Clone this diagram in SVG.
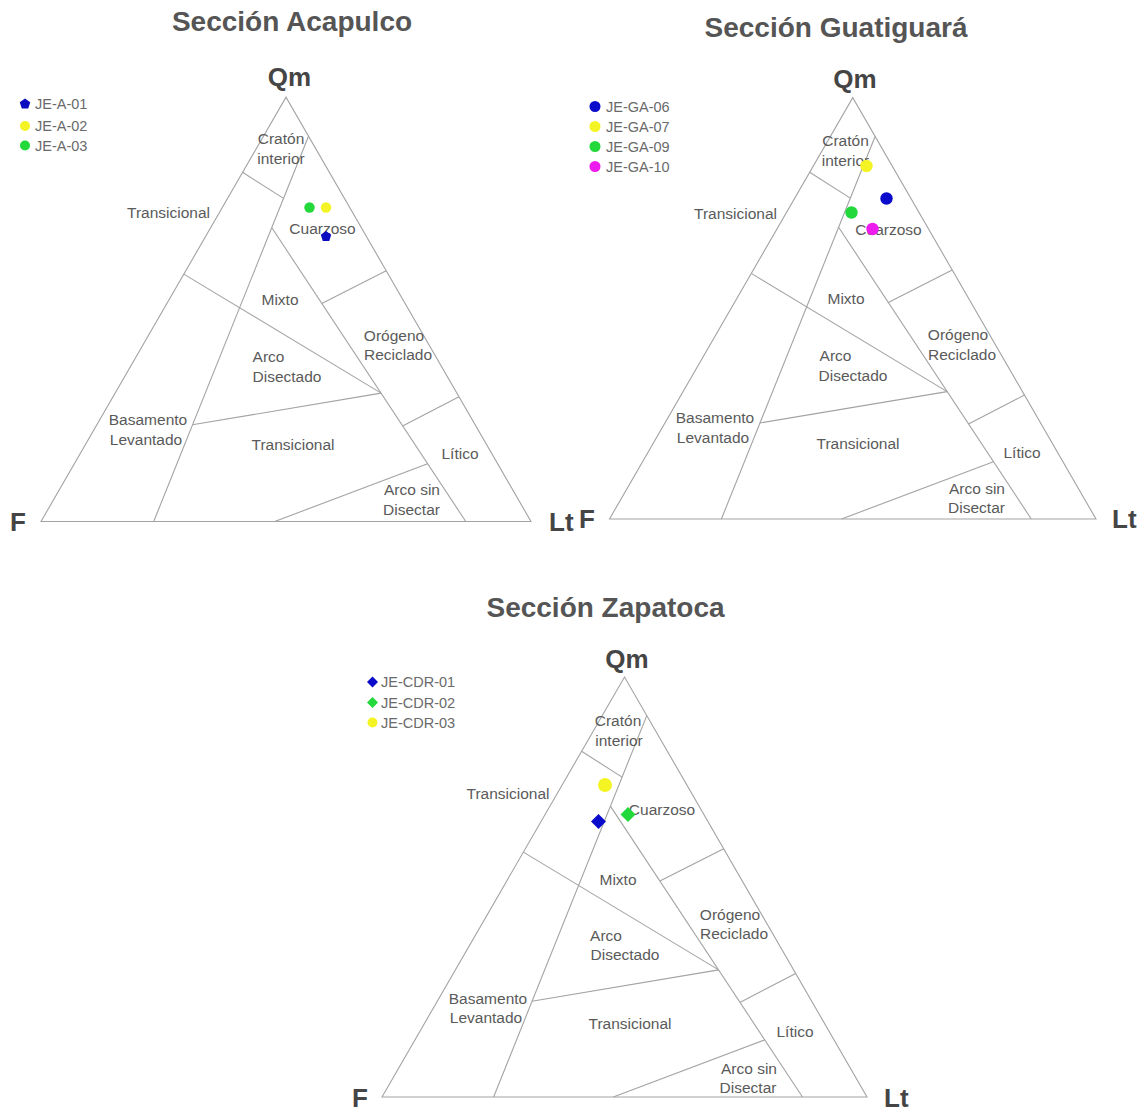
<svg xmlns="http://www.w3.org/2000/svg" width="1143" height="1111" viewBox="0 0 1143 1111">
<style>
.bg{fill:#ffffff}
.ln{fill:none;stroke:#a3a3a3;stroke-width:1.1}
.title{font-family:"Liberation Sans",Arial,sans-serif;font-weight:bold;font-size:28px;fill:#555555;text-anchor:middle}
.ax{font-family:"Liberation Sans",Arial,sans-serif;font-weight:bold;font-size:26px;fill:#454545}
.axm{text-anchor:middle}
.lb{font-family:"Liberation Sans",Arial,sans-serif;font-size:15.5px;fill:#5a5a5a;text-anchor:middle}
.lg{font-family:"Liberation Sans",Arial,sans-serif;font-size:14.5px;fill:#6a6a6a}
</style>
<defs>
<path id="pent" d="M0,-5.5 L5.23,-1.7 L3.23,4.45 L-3.23,4.45 L-5.23,-1.7 Z"/>
<path id="dia" d="M0,-5.5 L5.5,0 L0,5.5 L-5.5,0 Z"/>
<path id="diaL" d="M0,-7.5 L7.5,0 L0,7.5 L-7.5,0 Z"/>
</defs>
<rect class="bg" x="0" y="0" width="1143" height="1111"/>

<g id="panel-acapulco">
<text class="title" x="292" y="31">Sección Acapulco</text>
<text class="ax axm" x="289.5" y="86">Qm</text>
<text class="ax" x="10" y="531">F</text>
<text class="ax" x="549" y="531">Lt</text>
<g id="acapulco-lines">
<path class="ln" d="M41,521.5 L286,97.2 L531,521.5 Z"/>
<path class="ln" d="M308.5,136.2 L153.7,521.5"/>
<path class="ln" d="M242.6,172.3 L283.6,198.4"/>
<path class="ln" d="M183.8,274.1 L381.1,393.1"/>
<path class="ln" d="M271.8,227.7 L465.8,521.5"/>
<path class="ln" d="M321.8,303.4 L386.2,270.7"/>
<path class="ln" d="M192.4,424.8 L381.1,393.1"/>
<path class="ln" d="M402.6,425.9 L459,396.8"/>
<path class="ln" d="M274.7,521.5 L427.6,463.8"/>
</g>
<g id="acapulco-labels">
<text class="lb" x="281" y="143.5">Cratón</text>
<text class="lb" x="281" y="164">interior</text>
<text class="lb" x="168.5" y="217.5">Transicional</text>
<text class="lb" x="322.5" y="233.5">Cuarzoso</text>
<text class="lb" x="280" y="304.5">Mixto</text>
<text class="lb" x="394" y="340.5">Orógeno</text>
<text class="lb" x="398" y="360">Reciclado</text>
<text class="lb" x="268.5" y="362">Arco</text>
<text class="lb" x="287" y="382">Disectado</text>
<text class="lb" x="148" y="425">Basamento</text>
<text class="lb" x="146" y="444.5">Levantado</text>
<text class="lb" x="293" y="450">Transicional</text>
<text class="lb" x="460" y="459">Lítico</text>
<text class="lb" x="412" y="495">Arco sin</text>
<text class="lb" x="411.5" y="515">Disectar</text>
</g>
<g id="acapulco-legend">
<use href="#pent" x="25" y="104" fill="#0b0bbf"/>
<text class="lg" x="35" y="109">JE-A-01</text>
<circle cx="25" cy="126" r="5" fill="#f4f424"/>
<text class="lg" x="35" y="131">JE-A-02</text>
<circle cx="25" cy="145.5" r="5" fill="#22d83a"/>
<text class="lg" x="35" y="150.5">JE-A-03</text>
</g>
<g id="acapulco-points">
<circle cx="309.5" cy="207.5" r="5.2" fill="#22d83a"/>
<circle cx="326" cy="207.5" r="5.2" fill="#f4f424"/>
<use href="#pent" x="326" y="236.5" fill="#0b0bbf"/>
</g>
</g>

<g id="panel-guatiguara">
<text class="title" x="836" y="37">Sección Guatiguará</text>
<text class="ax axm" x="855" y="88">Qm</text>
<text class="ax" x="579" y="528">F</text>
<text class="ax" x="1112" y="528">Lt</text>
<g id="guatiguara-lines">
<path class="ln" d="M609.5,519 L852.75,97.7 L1096,519 Z"/>
<path class="ln" d="M875.1,136.5 L721.4,519"/>
<path class="ln" d="M809.7,172.3 L850.3,198.1"/>
<path class="ln" d="M751.3,273.4 L947.1,391.6"/>
<path class="ln" d="M838.6,227.2 L1031.3,519"/>
<path class="ln" d="M888.3,302.5 L952.2,270"/>
<path class="ln" d="M759.8,423 L947.1,391.6"/>
<path class="ln" d="M968.5,424.1 L1024.5,395.1"/>
<path class="ln" d="M841.6,519 L993.4,461.7"/>
</g>
<g id="guatiguara-labels">
<text class="lb" x="845.5" y="146">Cratón</text>
<text class="lb" x="845.5" y="166">interior</text>
<text class="lb" x="735.5" y="218.5">Transicional</text>
<text class="lb" x="888.5" y="234.5">Cuarzoso</text>
<text class="lb" x="846" y="304">Mixto</text>
<text class="lb" x="958" y="340">Orógeno</text>
<text class="lb" x="962" y="359.5">Reciclado</text>
<text class="lb" x="835.5" y="361">Arco</text>
<text class="lb" x="853" y="380.5">Disectado</text>
<text class="lb" x="715" y="423">Basamento</text>
<text class="lb" x="713" y="443">Levantado</text>
<text class="lb" x="858" y="449">Transicional</text>
<text class="lb" x="1022" y="458">Lítico</text>
<text class="lb" x="977" y="494">Arco sin</text>
<text class="lb" x="976.5" y="513">Disectar</text>
</g>
<g id="guatiguara-legend">
<circle cx="595" cy="106.5" r="5.5" fill="#0b0bcc"/>
<text class="lg" x="606" y="111.5">JE-GA-06</text>
<circle cx="595" cy="126.5" r="5.5" fill="#f4f424"/>
<text class="lg" x="606" y="131.5">JE-GA-07</text>
<circle cx="595" cy="146.5" r="5.5" fill="#22d83a"/>
<text class="lg" x="606" y="151.5">JE-GA-09</text>
<circle cx="595" cy="166.5" r="5.5" fill="#ee1bee"/>
<text class="lg" x="606" y="171.5">JE-GA-10</text>
</g>
<g id="guatiguara-points">
<circle cx="866.5" cy="166" r="6.2" fill="#f4f424"/>
<circle cx="886.5" cy="198.5" r="6.2" fill="#0b0bcc"/>
<circle cx="851.5" cy="212.5" r="6.2" fill="#22d83a"/>
<circle cx="872.5" cy="229" r="6.2" fill="#ee1bee"/>
</g>
</g>

<g id="panel-zapatoca">
<text class="title" x="605.5" y="617">Sección Zapatoca</text>
<text class="ax axm" x="627" y="668">Qm</text>
<text class="ax" x="352" y="1107">F</text>
<text class="ax" x="884" y="1107">Lt</text>
<g id="zapatoca-lines">
<path class="ln" d="M382,1097 L624.5,677 L867,1097 Z"/>
<path class="ln" d="M646.8,715.6 L493.6,1097"/>
<path class="ln" d="M581.6,751.3 L622.1,777.1"/>
<path class="ln" d="M523.4,852.1 L718.6,969.9"/>
<path class="ln" d="M610.4,806.1 L802.5,1097"/>
<path class="ln" d="M659.9,881.1 L723.7,848.8"/>
<path class="ln" d="M531.9,1001.3 L718.6,969.9"/>
<path class="ln" d="M739.9,1002.4 L795.7,973.5"/>
<path class="ln" d="M613.3,1097 L764.7,1039.9"/>
</g>
<g id="zapatoca-labels">
<text class="lb" x="618" y="725.5">Cratón</text>
<text class="lb" x="619" y="745.5">interior</text>
<text class="lb" x="508" y="798.5">Transicional</text>
<text class="lb" x="662" y="814.5">Cuarzoso</text>
<text class="lb" x="618" y="884.5">Mixto</text>
<text class="lb" x="730" y="919.5">Orógeno</text>
<text class="lb" x="734" y="938.5">Reciclado</text>
<text class="lb" x="606" y="940.5">Arco</text>
<text class="lb" x="625" y="959.5">Disectado</text>
<text class="lb" x="488" y="1003.5">Basamento</text>
<text class="lb" x="486" y="1022.5">Levantado</text>
<text class="lb" x="630" y="1028.5">Transicional</text>
<text class="lb" x="795" y="1036.5">Lítico</text>
<text class="lb" x="749" y="1073.5">Arco sin</text>
<text class="lb" x="748" y="1092.5">Disectar</text>
</g>
<g id="zapatoca-legend">
<use href="#dia" x="372.5" y="682" fill="#0b0bcc"/>
<text class="lg" x="381" y="687">JE-CDR-01</text>
<use href="#dia" x="372.5" y="702.5" fill="#22d83a"/>
<text class="lg" x="381" y="707.5">JE-CDR-02</text>
<circle cx="372.5" cy="722.5" r="5" fill="#f4f424"/>
<text class="lg" x="381" y="727.5">JE-CDR-03</text>
</g>
<g id="zapatoca-points">
<circle cx="605" cy="785" r="7" fill="#f4f424"/>
<use href="#diaL" x="598.5" y="821.5" fill="#0b0bcc"/>
<use href="#diaL" x="628" y="814.5" fill="#22d83a"/>
</g>
</g>
</svg>
